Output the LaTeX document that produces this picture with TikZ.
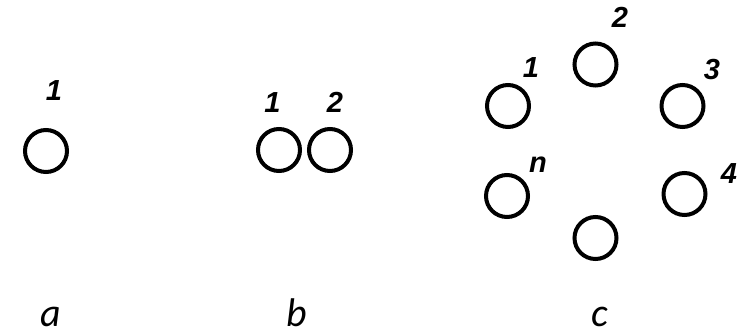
\documentclass[tikz,border=0pt]{standalone}
\usepackage{fontspec}
\newfontfamily\numfont{Liberation Sans}
\newfontfamily\capfont{Carlito}
\begin{document}
\begin{tikzpicture}[x=1pt,y=-1pt,
  ring/.style={draw=black,line width=4pt,circle,minimum size=42pt,inner sep=0pt},
  num/.style={anchor=base,inner sep=0pt,font=\numfont\fontsize{29}{29}\selectfont\bfseries\itshape},
  captext/.style={anchor=base,inner sep=0pt,font=\capfont\fontsize{40}{40}\selectfont\itshape}]
\useasboundingbox (0,0) rectangle (738,331);
% panel a
\node[ring] (a1) at (46,151) {};
\node[num] (la1) at (54,101) {1};
% panel b
\node[ring] (b1) at (279,150) {};
\node[ring] (b2) at (330,150) {};
\node[num] (lb1) at (272.5,113) {1};
\node[num] (lb2) at (335,113) {2};
% panel c
\node[ring] (c1) at (508,106) {};
\node[ring] (c2) at (595.5,64.5) {};
\node[ring] (c3) at (682.5,106) {};
\node[ring] (c4) at (684.5,194) {};
\node[ring] (c5) at (595.5,238) {};
\node[ring] (cn) at (507,196) {};
\node[num] (lc1) at (531,78) {1};
\node[num] (lc2) at (620,28) {2};
\node[num] (lc3) at (712,80) {3};
\node[num] (lc4) at (729,183) {4};
\node[num] (lcn) at (538,173) {n};
% captions
\node[captext] (ca) at (51,326) {a};
\node[captext] (cb) at (297,326) {b};
\node[captext] (cc) at (600,326) {c};
\end{tikzpicture}
\end{document}
